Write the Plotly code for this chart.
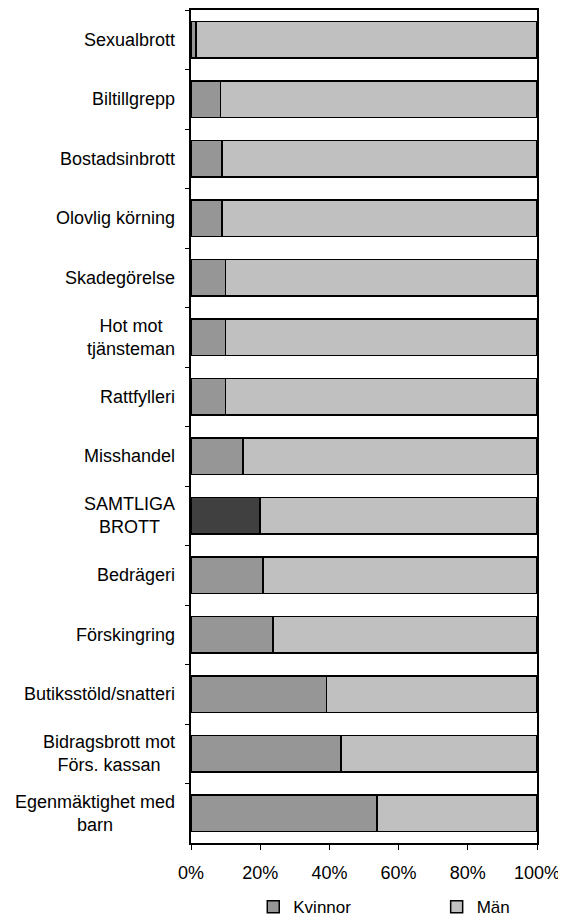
import plotly.graph_objects as go

brott = ["Sexualbrott", "Biltillgrepp", "Bostadsinbrott", "Olovlig körning", "Skadegörelse",
         "Hot mot<br>tjänsteman", "Rattfylleri", "Misshandel", "SAMTLIGA<br>BROTT", "Bedrägeri",
         "Förskingring", "Butiksstöld/snatteri", "Bidragsbrott mot<br>Förs. kassan",
         "Egenmäktighet med<br>barn"]
kvinnor = [1.5, 8.5, 9.0, 9.0, 10.0, 10.0, 10.0, 15.0, 20.0, 20.8, 23.7, 39.2, 43.3, 53.8]
man = [100 - k for k in kvinnor]
x_ticks = [0, 20, 40, 60, 80, 100]
x_ticktext = [f"{t}%" for t in x_ticks]

gra_k = "#969696"
gra_m = "#c0c0c0"
gra_samtliga = "#404040"
farger_k = [gra_samtliga if b.startswith("SAMTLIGA") else gra_k for b in brott]

fig = go.Figure()
fig.add_trace(go.Bar(y=brott, x=kvinnor, orientation="h", name="Kvinnor", legend="legend",
                     marker=dict(color=farger_k, line=dict(color="black", width=1.5))))
fig.add_trace(go.Bar(y=brott, x=man, orientation="h", name="Män", legend="legend2",
                     marker=dict(color=gra_m, line=dict(color="black", width=1.5))))

# egna etiketter for att centrera flerradig text
for b in brott:
    fig.add_annotation(x=0, y=b, xref="paper", yref="y", text=b, showarrow=False,
                       xanchor="right", align="center", xshift=-14,
                       font=dict(family="Liberation Sans, Arial", size=18, color="black"))

# sidan har 8px marginal i body; figuren far ga lite utanfor fonstret nertill
fig.update_layout(
    width=558, height=925,
    barmode="stack", bargap=0.38,
    plot_bgcolor="white", paper_bgcolor="white",
    margin=dict(l=183, r=29, t=2, b=90),
    font=dict(family="Liberation Sans, Arial", color="black"),
    xaxis=dict(range=[0, 100], tickvals=x_ticks, ticktext=x_ticktext, automargin=False,
               showgrid=False, zeroline=False, showline=True, linecolor="black", linewidth=1.5,
               mirror=True, ticks="outside", ticklen=5, tickcolor="black",
               ticklabelstandoff=8, tickfont=dict(size=18)),
    yaxis=dict(autorange="reversed", showticklabels=False, showgrid=False, automargin=False,
               showline=True, linecolor="black", linewidth=1.5, mirror=True,
               ticks="outside", ticklen=4, tickson="boundaries", tickcolor="black"),
    legend=dict(orientation="h", x=0.18, xanchor="left", y=-0.077, yanchor="middle",
                font=dict(size=17)),
    legend2=dict(orientation="h", x=0.71, xanchor="left", y=-0.077, yanchor="middle",
                 font=dict(size=17)),
    showlegend=True,
)

fig.write_html("out.html")
